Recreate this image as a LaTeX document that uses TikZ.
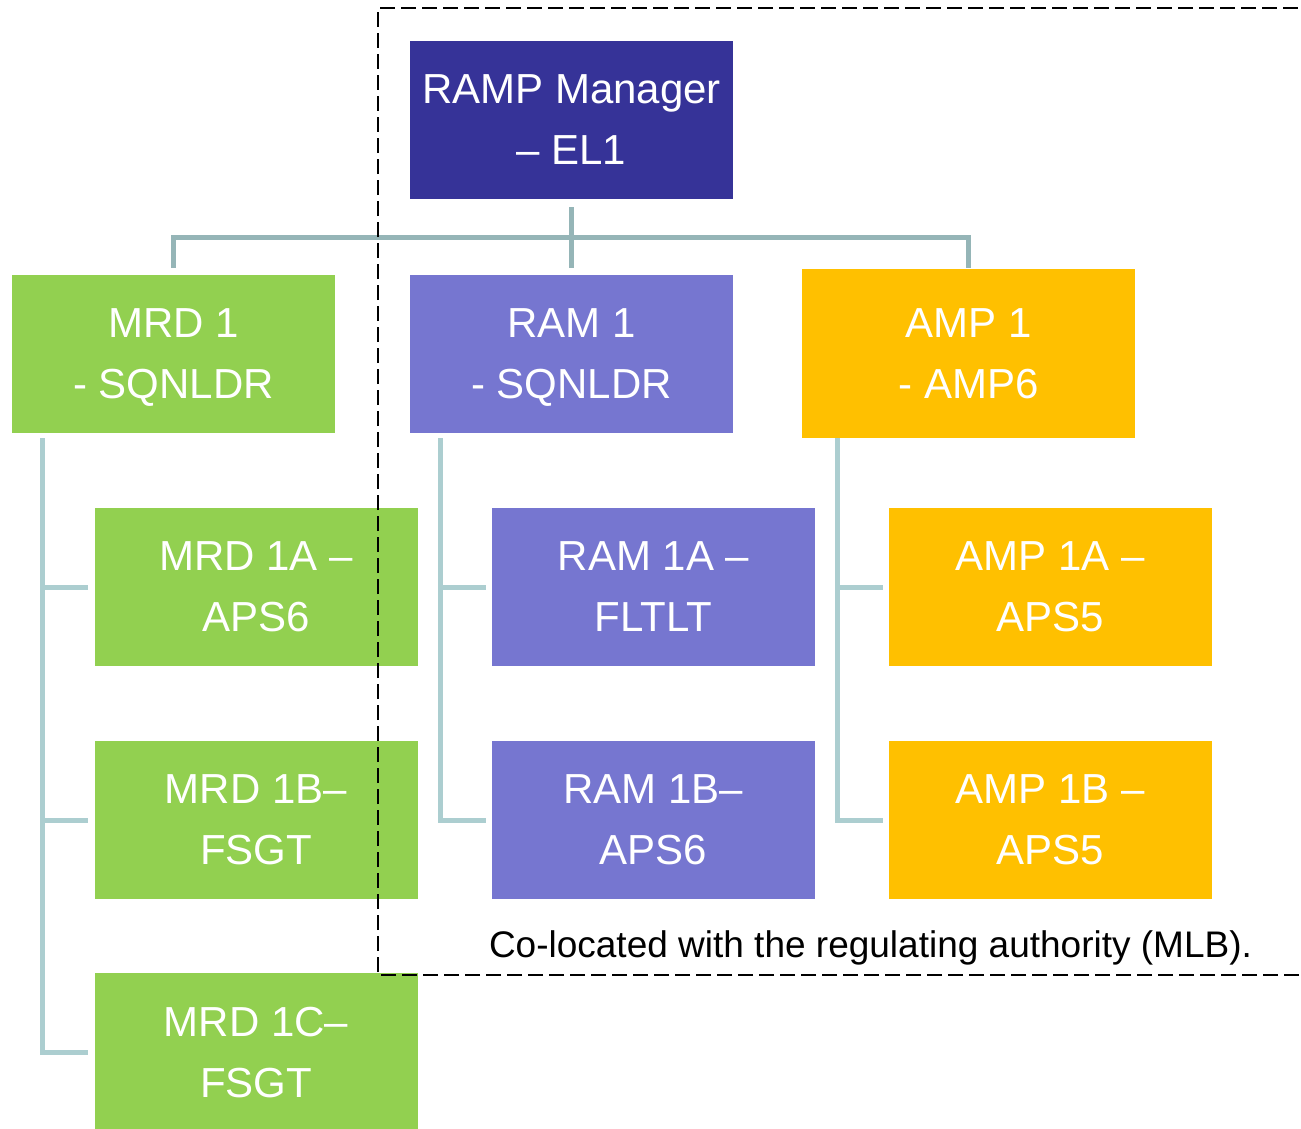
\documentclass[tikz,border=0pt]{standalone}
\usepackage{fontspec}
\setmainfont{Liberation Sans}
\definecolor{mgr}{RGB}{54,51,152}
\definecolor{grn}{RGB}{146,208,80}
\definecolor{prp}{RGB}{118,118,208}
\definecolor{org}{RGB}{255,192,0}
\definecolor{trunkc}{RGB}{149,181,183}
\definecolor{branchc}{RGB}{172,206,208}
\begin{document}
\begin{tikzpicture}[x=1pt,y=-1pt,
  boxbase/.style={draw=none,minimum width=323pt,minimum height=158pt,inner sep=0pt,
    text=white,align=center,text depth=0pt,font=\fontsize{42}{61}\selectfont},
  mgrbox/.style={boxbase,fill=mgr},
  grnbox/.style={boxbase,fill=grn},
  prpbox/.style={boxbase,fill=prp},
  orgbox/.style={boxbase,fill=org},
  trunk/.style={draw=trunkc,line width=5pt},
  branch/.style={draw=branchc,line width=5pt},
  frame/.style={draw=black,line width=1.8pt,dash pattern=on 15pt off 6pt}]
\useasboundingbox (0,0) rectangle (1301,1129);
\clip (0,0) rectangle (1301,1129);
% boxes
\node[mgrbox] (ramp) at (571.5,120) {RAMP Manager\\– EL1};
\node[grnbox] (mrd) at (173.5,354) {MRD 1\\- SQNLDR};
\node[prpbox] (ram) at (571.5,354) {RAM 1\\- SQNLDR};
\node[orgbox,minimum width=333pt,minimum height=169pt] (amp) at (968.5,353.5) {AMP 1\\- AMP6};
\node[grnbox] (mrda) at (256,587) {MRD 1A –\\APS6};
\node[grnbox] (mrdb) at (256,820) {MRD 1B–\\FSGT};
\node[grnbox] (mrdc) at (256,1052) {MRD 1C–\\FSGT};
\node[prpbox] (rama) at (653.5,587) {RAM 1A –\\FLTLT};
\node[prpbox] (ramb) at (653.5,820) {RAM 1B–\\APS6};
\node[orgbox] (ampa) at (1050.5,587) {AMP 1A –\\APS5};
\node[orgbox] (ampb) at (1050.5,820) {AMP 1B –\\APS5};
% top tree
\coordinate (bus) at (571.5,237);
\draw[trunk] ([yshift=-8pt]ramp.south) -- ([yshift=7pt]ram.north);
\draw[trunk] ([yshift=7pt]mrd.north) -- (mrd.north |- bus) -- (amp.north |- bus) -- ([yshift=1pt]amp.north);
% MRD branch
\coordinate (mrdv) at ([xshift=31pt,yshift=-5pt]mrd.south west);
\draw[branch] (mrdv) |- ([xshift=-6pt]mrdc.west);
\draw[branch] (mrdv |- mrda.west) -- ([xshift=-6pt]mrda.west);
\draw[branch] (mrdv |- mrdb.west) -- ([xshift=-6pt]mrdb.west);
% RAM branch
\coordinate (ramv) at ([xshift=31pt,yshift=-5pt]ram.south west);
\draw[branch] (ramv) |- ([xshift=-6pt]ramb.west);
\draw[branch] (ramv |- rama.west) -- ([xshift=-6pt]rama.west);
% AMP branch
\coordinate (ampv) at ([xshift=36pt,yshift=0pt]amp.south west);
\draw[branch] (ampv) |- ([xshift=-6pt]ampb.west);
\draw[branch] (ampv |- ampa.west) -- ([xshift=-6pt]ampa.west);
% caption
\node[anchor=base,font=\fontsize{37}{44}\selectfont,inner sep=0pt] (cap) at (870.5,957) {Co-located with the regulating authority (MLB).};
% dashed frame
\draw[frame] (1320,975) -- (378,975) -- (378,8) -- (1320,8);
\end{tikzpicture}
\end{document}
